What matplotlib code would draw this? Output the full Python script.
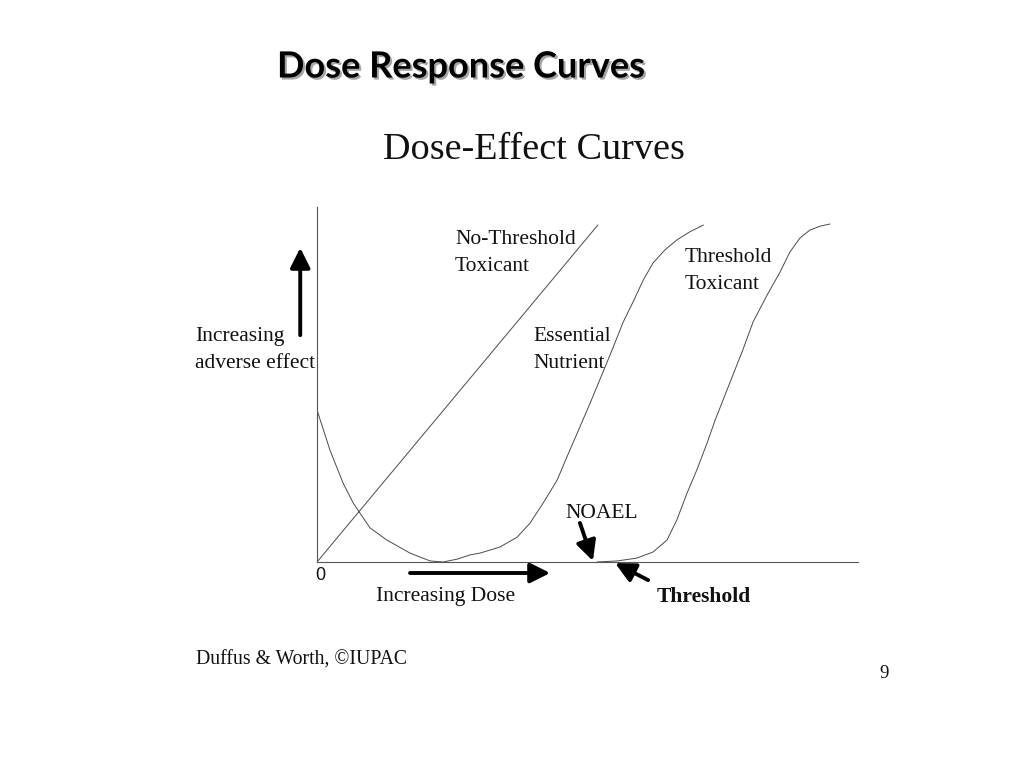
import matplotlib

matplotlib.use("Agg")
import matplotlib.pyplot as plt  # noqa: E402
import matplotlib.patheffects as pe  # noqa: E402
from matplotlib.patches import ArrowStyle  # noqa: E402

W, H = 1024, 768

# curves, in dose / effect units (axes run 0..10 on both)
no_thresh_dose = [0.0, 5.19]
no_thresh_effect = [0.0, 9.49]

nutrient_dose = [0.00, 0.24, 0.48, 0.67, 0.78, 0.98, 1.29, 1.72, 2.09, 2.33, 2.59, 2.83,
                 3.01, 3.38, 3.70, 3.94, 4.18, 4.44, 4.62, 4.81, 5.05, 5.47, 5.66, 5.84,
                 6.03, 6.21, 6.43, 6.65, 6.89, 7.14]
nutrient_effect = [4.28, 3.15, 2.23, 1.66, 1.41, 0.96, 0.62, 0.25, 0.03, 0.00, 0.08, 0.20,
                   0.25, 0.42, 0.70, 1.10, 1.66, 2.31, 2.96, 3.63, 4.48, 6.03, 6.76, 7.32,
                   7.94, 8.42, 8.79, 9.07, 9.30, 9.49]

threshold_dose = [5.18, 5.55, 5.91, 6.21, 6.47, 6.65, 6.84, 7.02, 7.21, 7.36, 7.58, 7.87,
                  8.06, 8.32, 8.56, 8.74, 8.93, 9.11, 9.30, 9.48]
threshold_effect = [0.00, 0.03, 0.11, 0.28, 0.62, 1.18, 1.94, 2.59, 3.35, 4.00, 4.85, 5.97,
                    6.76, 7.52, 8.17, 8.73, 9.13, 9.35, 9.46, 9.52]

# arrows: (start dose, start effect, tip dose, tip effect)
arrow_up = (-0.31, 6.39, -0.31, 8.85)
arrow_dose = (1.72, -0.31, 4.31, -0.31)
arrow_noael = (4.86, 1.10, 5.10, 0.03)
arrow_threshold = (6.12, -0.51, 5.51, -0.03)

LINE = "#4a4a4a"
SERIF = ["Liberation Serif", "DejaVu Serif"]


def fx(px):
    return px / W


def fy(py):
    return 1 - py / H


fig = plt.figure(figsize=(W / 100, H / 100), dpi=100)
fig.patch.set_facecolor("white")

# slide title
fig.text(fx(277), fy(67), "Dose Response Curves", ha="left", va="center",
         fontsize=26, fontweight="bold", family="Lato", color="black",
         path_effects=[pe.SimplePatchShadow(offset=(1.5, -1.5), alpha=0.35), pe.Normal()])
fig.text(fx(383), fy(150), "Dose-Effect Curves", ha="left", va="center",
         fontsize=27.5, family=SERIF, color="#111111")

ax = fig.add_axes((fx(317), fy(562), fx(858) - fx(317), fy(207) - fy(562)))
ax.set_xlim(0, 10)
ax.set_ylim(0, 10)
for s in ("top", "right"):
    ax.spines[s].set_visible(False)
for s in ("left", "bottom"):
    ax.spines[s].set_color("#555555")
    ax.spines[s].set_linewidth(0.8)
ax.set_xticks([])
ax.set_yticks([])
ax.patch.set_alpha(0)

for xs, ys in ((no_thresh_dose, no_thresh_effect),
               (nutrient_dose, nutrient_effect),
               (threshold_dose, threshold_effect)):
    ax.plot(xs, ys, color=LINE, lw=0.7, solid_joinstyle="round")

head = ArrowStyle("-|>", head_length=1.2, head_width=0.6)
for x0, y0, x1, y1 in (arrow_up, arrow_dose, arrow_noael, arrow_threshold):
    ax.annotate("", xy=(x1, y1), xytext=(x0, y0), annotation_clip=False,
                arrowprops=dict(arrowstyle=head, mutation_scale=10, lw=2.8,
                                color="black", shrinkA=0, shrinkB=0))

# labels
labels = [
    (455, [240, 266], ["No-Threshold", "Toxicant"]),
    (533, [337, 363], ["Essential", "Nutrient"]),
    (685, [258, 284], ["Threshold", "Toxicant"]),
    (195, [337, 363], ["Increasing", "adverse effect"]),
    (565, [513], ["NOAEL"]),
    (376, [597], ["Increasing Dose"]),
]
for left, ys, lines in labels:
    for py, txt in zip(ys, lines):
        fig.text(fx(left), fy(py), txt, ha="left", va="center", fontsize=15.5,
                 family=SERIF, color="#111111")

fig.text(fx(657), fy(597), "Threshold", ha="left", va="center", fontsize=15.5,
         fontweight="bold", family=SERIF, color="#111111")
fig.text(fx(315), fy(576), "0", ha="left", va="center", fontsize=13,
         family="Liberation Sans", color="#111111")

fig.text(fx(196), fy(660), "Duffus & Worth, \u00a9IUPAC", ha="left", va="center",
         fontsize=14.2, family=SERIF, color="#111111")
fig.text(fx(884), fy(674), "9", ha="center", va="center", fontsize=13.5,
         family=SERIF, color="#111111")

fig.savefig("out.png", dpi=100)
